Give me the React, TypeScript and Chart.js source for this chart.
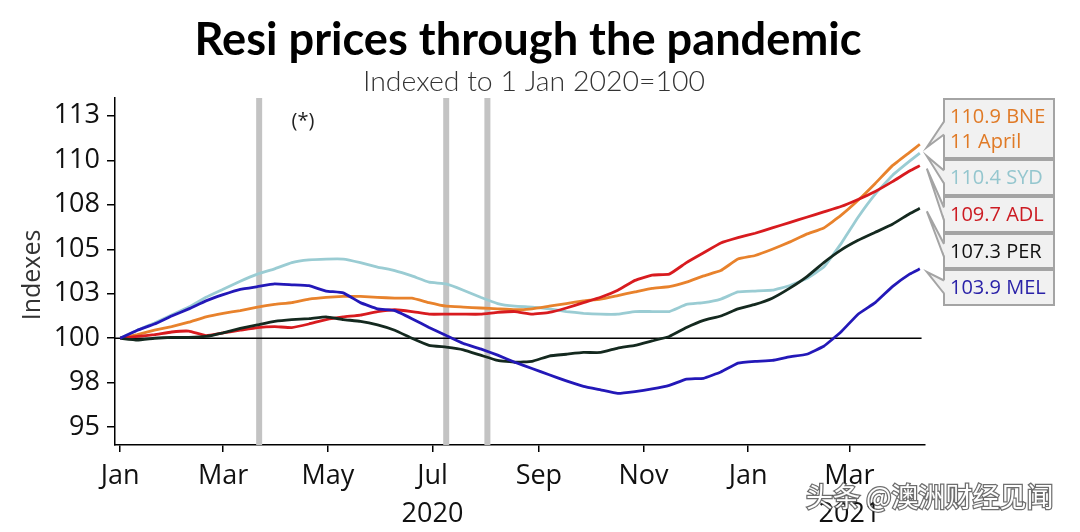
import React, { useEffect, useRef } from "react";
import { Chart, registerables } from "chart.js";

Chart.register(...registerables);

// Days since 1 Jan 2020
const days = [0, 10, 20, 30, 40, 50, 60, 70, 80, 90, 100, 110, 120, 130, 140, 150, 160, 170, 180, 190, 200, 210, 220, 230, 240, 250, 260, 270, 280, 290, 300, 310, 320, 330, 340, 350, 360, 370, 380, 390, 400, 410, 420, 430, 440, 450, 460, 466];

const mel = [100.0, 100.45, 100.8, 101.25, 101.65, 102.1, 102.45, 102.75, 102.9, 103.05, 103.0, 102.95, 102.65, 102.55, 102.0, 101.65, 101.55, 101.1, 100.6, 100.15, 99.7, 99.4, 99.05, 98.65, 98.3, 97.95, 97.6, 97.3, 97.1, 96.9, 97.0, 97.15, 97.35, 97.7, 97.75, 98.1, 98.6, 98.7, 98.75, 98.95, 99.1, 99.55, 100.35, 101.35, 102.0, 102.9, 103.6, 103.9];
const syd = [100.0, 100.45, 100.85, 101.3, 101.75, 102.3, 102.75, 103.2, 103.6, 103.9, 104.25, 104.4, 104.45, 104.45, 104.25, 104.0, 103.8, 103.5, 103.15, 103.05, 102.7, 102.3, 101.95, 101.8, 101.75, 101.65, 101.5, 101.4, 101.35, 101.35, 101.5, 101.5, 101.5, 101.9, 102.0, 102.2, 102.6, 102.65, 102.7, 102.95, 103.35, 104.0, 105.3, 106.8, 108.1, 109.15, 109.95, 110.4];
const bne = [100.0, 100.2, 100.45, 100.65, 100.9, 101.2, 101.4, 101.55, 101.75, 101.9, 102.0, 102.2, 102.3, 102.35, 102.35, 102.3, 102.25, 102.25, 102.0, 101.8, 101.75, 101.7, 101.65, 101.6, 101.65, 101.8, 101.95, 102.1, 102.2, 102.4, 102.6, 102.8, 102.9, 103.15, 103.5, 103.8, 104.45, 104.65, 105.0, 105.4, 105.85, 106.2, 106.9, 107.75, 108.7, 109.7, 110.45, 110.9];
const adl = [100.0, 100.1, 100.2, 100.35, 100.4, 100.15, 100.3, 100.45, 100.6, 100.65, 100.6, 100.8, 101.05, 101.2, 101.3, 101.5, 101.6, 101.5, 101.35, 101.35, 101.35, 101.35, 101.45, 101.5, 101.35, 101.45, 101.7, 102.0, 102.3, 102.7, 103.25, 103.55, 103.6, 104.25, 104.8, 105.35, 105.65, 105.9, 106.2, 106.5, 106.8, 107.1, 107.4, 107.8, 108.25, 108.8, 109.4, 109.7];
const per = [100.0, 99.9, 100.0, 100.05, 100.05, 100.1, 100.3, 100.55, 100.75, 100.95, 101.05, 101.1, 101.2, 101.05, 100.95, 100.75, 100.45, 100.0, 99.6, 99.5, 99.35, 99.05, 98.75, 98.65, 98.7, 99.0, 99.1, 99.2, 99.2, 99.45, 99.6, 99.85, 100.1, 100.6, 101.0, 101.25, 101.65, 101.9, 102.25, 102.8, 103.45, 104.25, 104.95, 105.5, 105.95, 106.4, 107.0, 107.3];

// x-axis ticks (day numbers) and their labels
const monthTickDays = [0, 60, 121, 182, 244, 305, 366, 425];
const monthTickLabels = [["Jan"], ["Mar"], ["May"], ["Jul", "2020"], ["Sep"], ["Nov"], ["Jan"], ["Mar", "2021"]];
const yTickValues = [95, 97.5, 100, 102.5, 105, 107.5, 110, 112.5];

// lockdown markers (day numbers)
const lockdownDays = [81, 190, 214];

const title = "Resi prices through the pandemic";
const subtitle = "Indexed to 1 Jan 2020=100";
const yTitle = "Indexes";
const note = "(*)";
const watermark = "头条 @澳洲财经见闻";

const seriesNames = ["MEL", "PER", "ADL", "BNE", "SYD"];
const seriesColors = ["#2318b8", "#14291f", "#d81b1f", "#e8822c", "#9accd3"];
const seriesData = [mel, per, adl, bne, syd];

// callouts (top to bottom)
const calloutKeys = ["BNE", "SYD", "ADL", "PER", "MEL"];
const calloutLines = [["110.9 BNE", "11 April"], ["110.4 SYD"], ["109.7 ADL"], ["107.3 PER"], ["103.9 MEL"]];
const calloutColors = ["#e07a26", "#94c6ce", "#cc1b22", "#111111", "#2a22a8"];

const FONT = "'Open Sans', 'DejaVu Sans', sans-serif";

const decorPlugin = {
  id: "decor",
  beforeDatasetsDraw(chart: any) {
    const { ctx, chartArea, scales } = chart;
    const xs = scales.x;
    const ys = scales.y;
    ctx.save();
    ctx.fillStyle = "#c3c3c3";
    for (const d of lockdownDays) {
      const px = xs.getPixelForValue(d);
      ctx.fillRect(px - 3, chartArea.top, 6, chartArea.bottom - chartArea.top);
    }
    const y100 = ys.getPixelForValue(100);
    ctx.strokeStyle = "#000";
    ctx.lineWidth = 1.5;
    ctx.beginPath();
    ctx.moveTo(chartArea.left, y100);
    ctx.lineTo(xs.getPixelForValue(467), y100);
    ctx.stroke();
    ctx.restore();
  },
  afterDraw(chart: any) {
    const { ctx, chartArea, scales } = chart;
    const xs = scales.x;
    const ys = scales.y;
    ctx.save();
    // title
    ctx.fillStyle = "#000";
    ctx.textAlign = "center";
    ctx.textBaseline = "alphabetic";
    ctx.font = `bold 46px Lato, ${FONT}`;
    const tw = ctx.measureText(title).width;
    ctx.save();
    ctx.translate(528, 55);
    ctx.scale(667 / tw, 1);
    ctx.fillText(title, 0, 0);
    ctx.restore();
    // subtitle
    ctx.fillStyle = "#333";
    ctx.font = `300 27px Lato, ${FONT}`;
    const sw = ctx.measureText(subtitle).width;
    ctx.save();
    ctx.translate(534, 91);
    ctx.scale(342 / sw, 1);
    ctx.fillText(subtitle, 0, 0);
    ctx.restore();
    // y title
    ctx.save();
    ctx.translate(33, 275);
    ctx.rotate(-Math.PI / 2);
    ctx.fillStyle = "#333";
    ctx.font = `25px ${FONT}`;
    ctx.textBaseline = "middle";
    ctx.fillText(yTitle, 0, 0);
    ctx.restore();
    // note
    ctx.fillStyle = "#222";
    ctx.font = `20px ${FONT}`;
    ctx.textBaseline = "middle";
    ctx.fillText(note, 303, 121);

    // callouts
    const boxLeft = 944;
    const boxW = 110;
    const heights = [59, 35, 35, 34, 35];
    let top = chartArea.top + 1;
    const lastIdx = days.length - 1;
    for (let i = 0; i < calloutKeys.length; i++) {
      const h = heights[i];
      const si = seriesNames.indexOf(calloutKeys[i]);
      const tipX = xs.getPixelForValue(days[lastIdx]) + 7;
      const tipY = ys.getPixelForValue(seriesData[si][lastIdx]) + 3;
      ctx.fillStyle = "#f1f1f1";
      ctx.strokeStyle = "#a4a4a4";
      ctx.lineWidth = 2;
      ctx.fillRect(boxLeft, top, boxW, h);
      ctx.strokeRect(boxLeft, top, boxW, h);
      const cy = top + h / 2;
      ctx.beginPath();
      ctx.moveTo(boxLeft + 1, cy - 7);
      ctx.lineTo(tipX, tipY);
      ctx.lineTo(boxLeft + 1, cy + 6);
      ctx.closePath();
      ctx.fill();
      ctx.beginPath();
      ctx.moveTo(boxLeft, cy - 7);
      ctx.lineTo(tipX, tipY);
      ctx.lineTo(boxLeft, cy + 6);
      ctx.stroke();
      ctx.fillStyle = calloutColors[i];
      ctx.font = `20px ${FONT}`;
      ctx.textAlign = "left";
      ctx.textBaseline = "middle";
      const lines = calloutLines[i];
      if (lines.length === 1) {
        ctx.fillText(lines[0], boxLeft + 6, cy + 1);
      } else {
        ctx.fillText(lines[0], boxLeft + 6, top + 18);
        ctx.fillText(lines[1], boxLeft + 6, top + 43);
      }
      top += h + 2;
    }

    // watermark
    ctx.font = `27px 'Noto Sans CJK SC', ${FONT}`;
    ctx.textAlign = "left";
    ctx.textBaseline = "alphabetic";
    ctx.lineWidth = 2.5;
    ctx.strokeStyle = "rgba(60,60,60,0.75)";
    ctx.strokeText(watermark, 806, 507);
    ctx.fillStyle = "#ffffff";
    ctx.fillText(watermark, 806, 507);
    ctx.restore();
  },
};

export default function App() {
  const ref = useRef<HTMLCanvasElement | null>(null);
  useEffect(() => {
    if (!ref.current) return;
    const datasets = seriesNames.map((name, i) => ({
      label: name,
      data: days.map((d, j) => ({ x: d, y: seriesData[i][j] })),
      borderColor: seriesColors[i],
      backgroundColor: seriesColors[i],
      borderWidth: 2.8,
      pointRadius: 0,
      tension: 0.1,
      fill: false,
    }));
    const chart = new Chart(ref.current, {
      type: "line",
      data: { datasets },
      plugins: [decorPlugin],
      options: {
        animation: false,
        responsive: false,
        devicePixelRatio: 1,
        layout: { padding: { top: 98, right: 155, left: 0, bottom: 0 } },
        plugins: { legend: { display: false }, tooltip: { enabled: false }, title: { display: false } },
        scales: {
          x: {
            type: "linear",
            min: -3,
            max: 469,
            afterBuildTicks: (s: any) => {
              s.ticks = monthTickDays.map((v) => ({ value: v }));
            },
            afterFit: (s: any) => {
              s.height = 87;
            },
            ticks: {
              autoSkip: false,
              maxRotation: 0,
              color: "#111",
              padding: 6,
              font: { family: FONT, size: 27, lineHeight: 1.38 },
              callback: (v: any) => {
                const i = monthTickDays.indexOf(Number(v));
                return i >= 0 ? monthTickLabels[i] : "";
              },
            },
            grid: { display: true, drawOnChartArea: false, drawTicks: true, tickLength: 7, color: "#000", lineWidth: 1.5 },
            border: { display: true, color: "#000", width: 1.5 },
          },
          y: {
            min: 94,
            max: 113.5,
            afterBuildTicks: (s: any) => {
              s.ticks = yTickValues.map((v) => ({ value: v }));
            },
            afterFit: (s: any) => {
              s.width = 115;
            },
            ticks: {
              color: "#111",
              padding: 7,
              font: { family: FONT, size: 27 },
              callback: (v: any) => String(Math.round(Number(v))),
            },
            grid: { display: true, drawOnChartArea: false, drawTicks: true, tickLength: 8, color: "#000", lineWidth: 1.5 },
            border: { display: true, color: "#000", width: 1.5 },
          },
        },
      },
    } as any);
    return () => chart.destroy();
  }, []);
  return (
    <div style={{ position: "absolute", left: 0, top: 0, width: 1080, height: 532, background: "#fff" }}>
      <canvas ref={ref} width={1080} height={532} style={{ display: "block", width: 1080, height: 532 }} />
    </div>
  );
}
